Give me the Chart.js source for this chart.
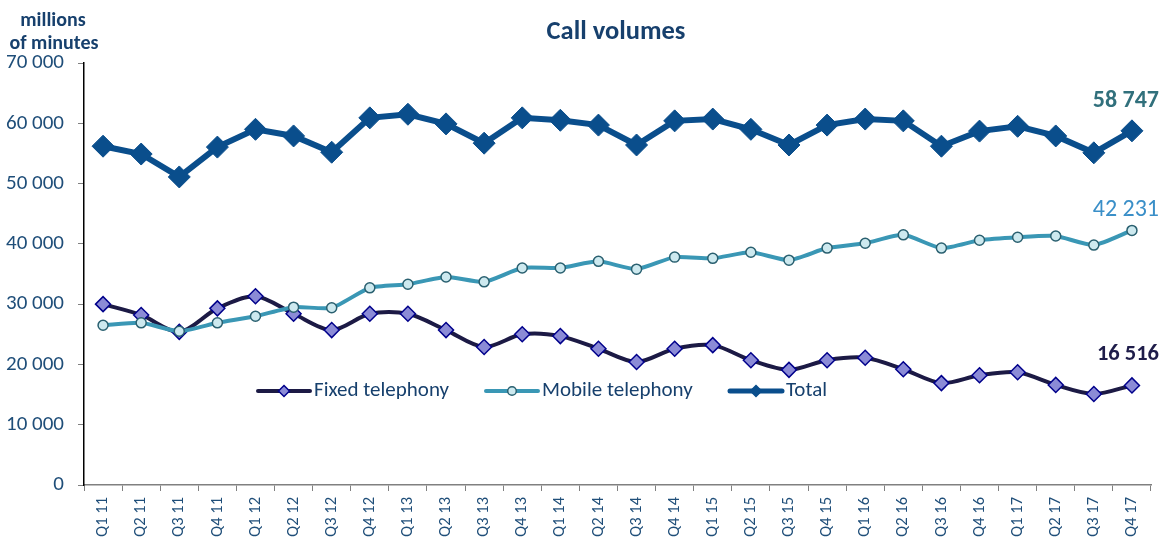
<!DOCTYPE html>
<html><head><meta charset="utf-8">
<script src="https://cdn.jsdelivr.net/npm/chart.js@4/dist/chart.umd.min.js"></script>
<style>html,body{margin:0;padding:0;background:#fff}#wrap{width:1168px;height:543px;position:relative}</style>
</head><body><div id="wrap"><canvas id="c" width="1168" height="543"></canvas></div>
<script>
const categories = ["Q1 11","Q2 11","Q3 11","Q4 11","Q1 12","Q2 12","Q3 12","Q4 12","Q1 13","Q2 13","Q3 13","Q4 13","Q1 14","Q2 14","Q3 14","Q4 14","Q1 15","Q2 15","Q3 15","Q4 15","Q1 16","Q2 16","Q3 16","Q4 16","Q1 17","Q2 17","Q3 17","Q4 17"];
const fixedTelephony = [30000,28200,25400,29300,31300,28400,25700,28400,28400,25700,22900,25000,24700,22600,20400,22600,23200,20700,19100,20700,21100,19200,16900,18200,18700,16600,15100,16516];
const mobileTelephony = [26500,26900,25500,26900,28000,29500,29400,32700,33300,34500,33700,36000,36000,37100,35800,37800,37600,38600,37300,39300,40100,41500,39300,40600,41100,41300,39800,42231];
const totalVolume = [56200,54900,51100,56050,59000,57900,55200,60900,61500,59900,56700,60900,60500,59700,56400,60400,60700,59000,56400,59700,60700,60400,56200,58700,59500,57900,55100,58747];
const yTicks = [0,10000,20000,30000,40000,50000,60000,70000];

const FONT = "Carlito, Lato, 'Liberation Sans', sans-serif";
const TXT = '#1f4e79';
const fmt = v => String(Math.round(v)).replace(/\B(?=(\d{3})+(?!\d))/g, ' ');

const legendItems = [
  {label:'Fixed telephony', line:'#1c1a45', lw:4, style:'rectRot', r:5.5, fill:'#8b8bd6', stroke:'#00008b', sx:258},
  {label:'Mobile telephony', line:'#3a97b5', lw:4, style:'circle', r:4.3, fill:'#cde9ef', stroke:'#2a6070', sx:486},
  {label:'Total', line:'#0a4e8c', lw:5, style:'rectRot', r:5.5, fill:'#0a4e8c', stroke:'#0a4e8c', sx:730}
];

const deco = {
  id:'deco',
  afterDraw(chart){
    const ctx = chart.ctx;
    ctx.save();
    ctx.fillStyle = '#17406d';
    ctx.font = "bold 26.5px " + FONT;
    ctx.textAlign = 'center'; ctx.textBaseline = 'middle';
    ctx.fillText('Call volumes', 616, 32);
    ctx.font = "bold 20px " + FONT;
    ctx.fillText('millions', 53, 21);
    ctx.fillText('of minutes', 54, 44);
    const ly = 391;
    legendItems.forEach(it => {
      ctx.strokeStyle = it.line; ctx.lineWidth = it.lw; ctx.lineCap = 'round';
      ctx.beginPath(); ctx.moveTo(it.sx, ly); ctx.lineTo(it.sx + 52, ly); ctx.stroke();
      ctx.fillStyle = it.fill; ctx.strokeStyle = it.stroke; ctx.lineWidth = 1.5;
      const cx = it.sx + 26;
      ctx.beginPath();
      if (it.style === 'circle') { ctx.arc(cx, ly, it.r, 0, Math.PI*2); }
      else { ctx.moveTo(cx, ly-it.r); ctx.lineTo(cx+it.r, ly); ctx.lineTo(cx, ly+it.r); ctx.lineTo(cx-it.r, ly); ctx.closePath(); }
      ctx.fill(); ctx.stroke();
      ctx.fillStyle = '#17406d'; ctx.font = "21px " + FONT;
      ctx.textAlign = 'left'; ctx.textBaseline = 'middle';
      ctx.fillText(it.label, it.sx + 56, ly);
    });
    const last = categories.length - 1;
    ctx.textAlign = 'right'; ctx.textBaseline = 'middle';
    ctx.font = "bold 24px " + FONT; ctx.fillStyle = '#31707c';
    ctx.fillText(fmt(totalVolume[last]), 1159, 101);
    ctx.font = "24px " + FONT; ctx.fillStyle = '#3a8fc8';
    ctx.fillText(fmt(mobileTelephony[last]), 1159, 210);
    ctx.font = "bold 22.5px " + FONT; ctx.fillStyle = '#1f1d4a';
    ctx.fillText(fmt(fixedTelephony[last]), 1159, 354);
    ctx.restore();
  }
};

new Chart(document.getElementById('c'), {
  type:'line',
  data:{
    labels: categories,
    datasets:[
      {label:'Fixed telephony', data:fixedTelephony, borderColor:'#1c1a45', borderWidth:4, tension:0.3,
       pointStyle:'rectRot', pointRadius:7.5, pointBackgroundColor:'#8b8bd6', pointBorderColor:'#00008b', pointBorderWidth:1.5, order:3},
      {label:'Mobile telephony', data:mobileTelephony, borderColor:'#3a97b5', borderWidth:4, tension:0.2,
       pointStyle:'circle', pointRadius:5, pointBackgroundColor:'#cde9ef', pointBorderColor:'#2a6070', pointBorderWidth:1.5, order:2},
      {label:'Total', data:totalVolume, borderColor:'#0a4e8c', borderWidth:6, tension:0,
       pointStyle:'rectRot', pointRadius:11, pointBackgroundColor:'#0a4e8c', pointBorderColor:'#0a4e8c', pointBorderWidth:1, order:1}
    ]
  },
  options:{
    responsive:false, animation:false,
    layout:{padding:{top:63, right:17, left:0, bottom:0}},
    plugins:{legend:{display:false}, title:{display:false}, tooltip:{enabled:false}},
    scales:{
      x:{
        offset:true,
        grid:{offset:true, drawOnChartArea:false, drawTicks:true, tickLength:6, color:'#808080'},
        border:{display:true, color:'#808080', width:1.5},
        ticks:{color:TXT, font:{family:FONT, size:16.5}, maxRotation:90, minRotation:90, autoSkip:false, padding:6},
        afterFit(s){ s.height = 58; }
      },
      y:{
        min:0, max:70000,
        afterBuildTicks(s){ s.ticks = yTicks.map(v => ({value:v})); },
        grid:{drawOnChartArea:false, drawTicks:true, tickLength:6, color:'#808080'},
        border:{display:true, color:'#000000', width:1.5},
        ticks:{color:TXT, font:{family:FONT, size:21}, padding:14, callback:v => fmt(v)},
        afterFit(s){ s.width = 84; }
      }
    }
  },
  plugins:[deco]
});
</script></body></html>
